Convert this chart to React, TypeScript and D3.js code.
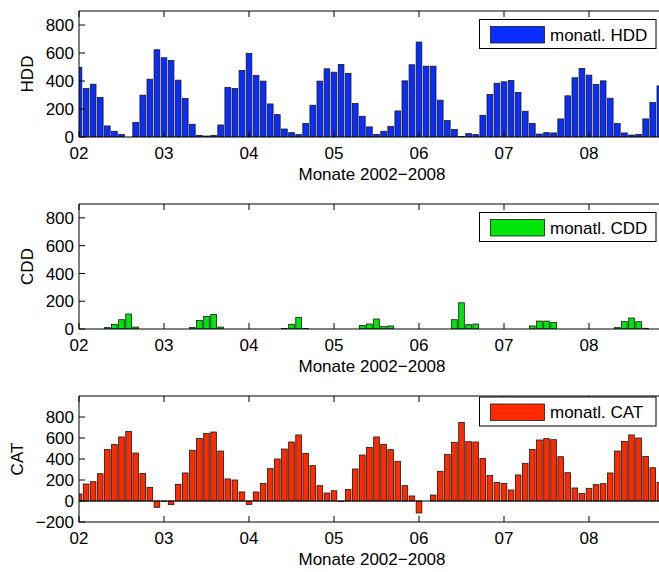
import React from "react";
import * as d3 from "d3";

// Monthly values, January 2002 .. November 2008
const hdd: number[] = [
  497, 346, 377, 282, 79, 41, 19, 0, 103, 299, 413, 623,
  566, 547, 406, 275, 91, 12, 7, 12, 86, 353, 346, 475,
  597, 439, 399, 236, 160, 57, 31, 17, 96, 227, 399, 487,
  463, 518, 454, 239, 148, 72, 19, 41, 76, 186, 401, 516,
  678, 506, 506, 263, 117, 53, 3, 24, 17, 155, 303, 384,
  394, 404, 318, 184, 96, 21, 31, 29, 129, 294, 423, 490,
  442, 375, 401, 277, 96, 29, 14, 19, 129, 246, 365,
];

const cdd: number[] = [
  0, 0, 0, 0, 10, 34, 67, 108, 14, 0, 0, 0,
  0, 0, 0, 0, 10, 62, 91, 105, 14, 0, 0, 0,
  0, 0, 0, 0, 0, 3, 34, 84, 3, 0, 0, 0,
  0, 0, 0, 0, 26, 36, 72, 19, 22, 0, 0, 0,
  0, 0, 0, 0, 0, 67, 189, 31, 36, 0, 0, 0,
  0, 0, 0, 0, 22, 57, 57, 48, 0, 0, 0, 0,
  0, 0, 0, 0, 10, 53, 79, 53, 5, 0, 0,
];

const cat: number[] = [
  67, 162, 184, 260, 492, 537, 610, 663, 457, 263, 130, -60,
  -3, -35, 159, 267, 483, 597, 644, 657, 476, 210, 200, 86,
  -32, 86, 168, 308, 400, 495, 562, 629, 454, 337, 146, 76,
  98, -5, 111, 305, 438, 511, 610, 540, 489, 378, 146, 48,
  -114, 0, 57, 283, 444, 559, 749, 565, 562, 406, 244, 178,
  168, 105, 248, 359, 492, 581, 594, 584, 422, 270, 124, 73,
  121, 156, 165, 267, 476, 568, 629, 600, 425, 317, 178,
];

const yearTickLabels: string[] = ["02", "03", "04", "05", "06", "07", "08"];
const xAxisLabel = "Monate 2002\u22122008";

const FONT = "'Liberation Sans', Arial, Helvetica, sans-serif";
const FS = 17;
const W = 659;
const H = 572;

type Panel = {
  key: string;
  values: number[];
  yLabel: string;
  legend: string;
  color: string;
  yDomain: [number, number];
  yTicks: number[];
  top: number;
  bottom: number;
  yLabelX: number;
};

const panels: Panel[] = [
  {
    key: "hdd",
    values: hdd,
    yLabel: "HDD",
    legend: "monatl. HDD",
    color: "#0a2dff",
    yDomain: [0, 900],
    yTicks: [0, 200, 400, 600, 800],
    top: 11,
    bottom: 137,
    yLabelX: 33,
  },
  {
    key: "cdd",
    values: cdd,
    yLabel: "CDD",
    legend: "monatl. CDD",
    color: "#00e60a",
    yDomain: [0, 900],
    yTicks: [0, 200, 400, 600, 800],
    top: 204,
    bottom: 329,
    yLabelX: 33,
  },
  {
    key: "cat",
    values: cat,
    yLabel: "CAT",
    legend: "monatl. CAT",
    color: "#ff2a00",
    yDomain: [-200, 1000],
    yTicks: [-200, 0, 200, 400, 600, 800],
    top: 396,
    bottom: 522,
    yLabelX: 22.5,
  },
];

const LEFT = 79;
const MONTH_PX = 85 / 12;
const X_MAX = 84;

function fmt(v: number): string {
  return v < 0 ? "\u2212" + Math.abs(v) : String(v);
}

function PanelView({ p }: { p: Panel }) {
  const x = d3.scaleLinear().domain([0, X_MAX]).range([LEFT, LEFT + X_MAX * MONTH_PX]);
  const y = d3.scaleLinear().domain(p.yDomain).range([p.bottom, p.top]);
  const bw = 0.8 * MONTH_PX;
  const clipId = "clip-" + p.key;
  const right = x(X_MAX);
  const tickLen = 6;
  const yearTicks = yearTickLabels.map((_, i) => i * 12);

  return (
    <g>
      <defs>
        <clipPath id={clipId}>
          <rect x={LEFT} y={p.top} width={right - LEFT} height={p.bottom - p.top} />
        </clipPath>
      </defs>
      <rect x={LEFT} y={p.top} width={right - LEFT} height={p.bottom - p.top} fill="#fff" />
      <g clipPath={`url(#${clipId})`}>
        {p.values.map((v, i) => {
          const y0 = y(0);
          const y1 = y(v);
          return (
            <rect
              key={i}
              x={x(i) - bw / 2}
              y={Math.min(y0, y1)}
              width={bw}
              height={Math.abs(y1 - y0)}
              fill={p.color}
              stroke="#1a1a1a"
              strokeWidth={0.8}
            />
          );
        })}
        {p.yDomain[0] < 0 && (
          <line x1={LEFT} x2={right} y1={y(0)} y2={y(0)} stroke="#000" strokeWidth={1} />
        )}
      </g>
      {/* axes box */}
      <path
        d={`M${right},${p.top}H${LEFT}V${p.bottom}H${right}`}
        fill="none"
        stroke="#000"
        strokeWidth={1}
      />
      {/* x ticks inward at top and bottom */}
      {yearTicks.map((t, i) => (
        <g key={"xt" + i}>
          <line x1={x(t)} x2={x(t)} y1={p.bottom} y2={p.bottom - tickLen} stroke="#000" />
          <line x1={x(t)} x2={x(t)} y1={p.top} y2={p.top + tickLen} stroke="#000" />
          <text
            x={x(t)}
            y={p.bottom + 22}
            textAnchor="middle"
            fontFamily={FONT}
            fontSize={FS}
            fill="#000"
          >
            {yearTickLabels[i]}
          </text>
        </g>
      ))}
      {/* y ticks */}
      {p.yTicks.map((t) => (
        <g key={"yt" + t}>
          <line x1={LEFT} x2={LEFT + tickLen} y1={y(t)} y2={y(t)} stroke="#000" />
          <text
            x={74}
            y={y(t)}
            dy="0.36em"
            textAnchor="end"
            fontFamily={FONT}
            fontSize={FS}
            fill="#000"
          >
            {fmt(t)}
          </text>
        </g>
      ))}
      <text
        transform={`translate(${p.yLabelX},${(p.top + p.bottom) / 2 + 0}) rotate(-90)`}
        textAnchor="middle"
        fontFamily={FONT}
        fontSize={FS}
        fill="#000"
      >
        {p.yLabel}
      </text>
      <text
        x={372}
        y={p.bottom + 43}
        textAnchor="middle"
        fontFamily={FONT}
        fontSize={FS}
        fill="#000"
      >
        {xAxisLabel}
      </text>
      {/* legend */}
      <g transform={`translate(479.5,${p.top + (p.key === "cat" ? 1 : 8.5)})`}>
        <rect x={0} y={0} width={176.5} height={29} fill="#fff" stroke="#000" strokeWidth={1} />
        <rect x={11} y={7} width={54} height={16.5} fill={p.color} stroke="#1a1a1a" strokeWidth={0.8} />
        <text x={70.5} y={21} fontFamily={FONT} fontSize={FS} fill="#000">
          {p.legend}
        </text>
      </g>
    </g>
  );
}

export default function App() {
  return (
    <svg
      width={W}
      height={H}
      viewBox={`0 0 ${W} ${H}`}
      style={{ position: "absolute", left: 0, top: 0, background: "#fff" }}
    >
      <rect width={W} height={H} fill="#fff" />
      {panels.map((p) => (
        <PanelView key={p.key} p={p} />
      ))}
    </svg>
  );
}
